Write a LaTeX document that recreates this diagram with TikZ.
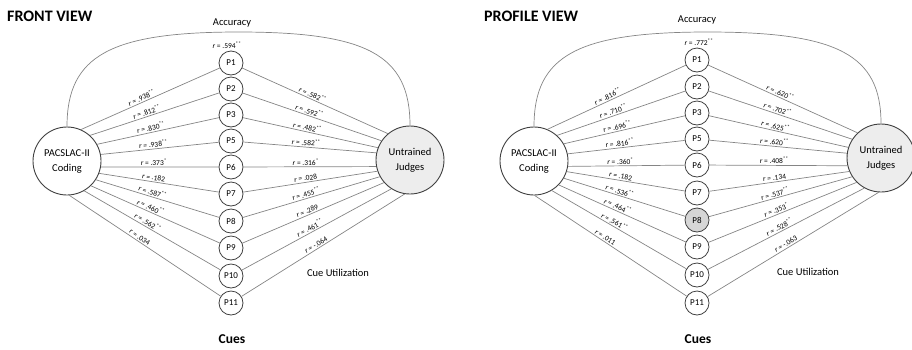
\documentclass[tikz,border=0pt]{standalone}
\usepackage{fontspec}
\setmainfont{Carlito}
\definecolor{linegray}{HTML}{858585}
\definecolor{edgegray}{HTML}{404040}
\definecolor{judgefill}{HTML}{EDEDED}
\definecolor{cuefill}{HTML}{D6D6D6}
\newcommand{\starsof}[1]{\ifcase#1\or\textsuperscript{*}\or\textsuperscript{**}\fi}
\newcommand{\corrlab}[2]{\textit{r} = #1\starsof{#2}}
\tikzset{
  bignode/.style={circle, draw=edgegray, line width=0.9pt, minimum size=68pt, inner sep=0pt,
    align=center, font=\fontsize{10.5}{15}\selectfont},
  cuenode/.style={circle, draw=edgegray, line width=0.8pt, minimum size=24pt, inner sep=0pt,
    font=\fontsize{9}{10}\selectfont},
  conn/.style={draw=linegray, line width=0.7pt},
  rlab/.style={font=\fontsize{7.5}{8}\selectfont, sloped, above, inner sep=1.2pt},
  titletext/.style={font=\fontsize{16}{18}\selectfont\bfseries, anchor=west, inner sep=0pt},
  plaintext/.style={font=\fontsize{10.5}{12}\selectfont, inner sep=0pt},
  cuestext/.style={font=\fontsize{13.5}{15}\selectfont\bfseries, inner sep=0pt},
}
\begin{document}
\begin{tikzpicture}[x=1pt,y=-1pt]
\useasboundingbox (0,0) rectangle (912,349);

% ---------------- FRONT VIEW ----------------
\node[titletext] (fTitle) at (7,16) {FRONT VIEW};
\node[bignode] (fL) at (67,161) {PACSLAC-II\\Coding};
\node[bignode, fill=judgefill] (fR) at (410,160) {Untrained\\Judges};
\foreach \i/\lab/\y in {1/P1/63, 2/P2/89, 3/P3/115, 4/P5/141, 5/P6/167, 6/P7/194, 7/P8/221, 8/P9/248, 9/P10/276, 10/P11/303}
  \node[cuenode] (fP\i) at (231,\y) {\lab};

\foreach \i/\a/\v/\s in {1/66/.938/2, 2/48/.812/2, 3/29/.830/2, 4/11/.938/2, 5/-10/.373/1, 6/-21/.182/0, 7/-33/.587/2, 8/-46/.460/2, 9/-60/.562/2, 10/-86/.034/0}
  \draw[conn] (fL.\a) -- node[rlab, pos=0.45] {\corrlab{\v}{\s}} (fP\i);
\foreach \i/\a/\v/\s in {1/130/.582/2, 2/146/.592/2, 3/159/.482/2, 4/168/.582/2, 5/191/.316/1, 6/199/.028/0, 7/209/.455/2, 8/221/.289/0, 9/237/.461/2, 10/261/-.064/0}
  \draw[conn] (fP\i) -- node[rlab, pos=0.47] {\corrlab{\v}{\s}} (fR.\a);

\coordinate (fPeak) at (238.5,32);
\draw[conn] (fL.north) .. controls +(0,-71) and +(-128,0) .. (fPeak)
  .. controls +(128,0) and +(0,-71) .. (fR.north);
\node[plaintext] (fAcc) at (232,23) {Accuracy};
\node[font=\fontsize{7.5}{8}\selectfont, inner sep=0pt] (fAccR) at (227,45) {\corrlab{.594}{2}};
\node[plaintext] (fCU) at (338,273) {Cue Utilization};
\node[cuestext] (fCues) at (232,339) {Cues};

% ---------------- PROFILE VIEW ----------------
\node[titletext] (pTitle) at (484,16) {PROFILE VIEW};
\node[bignode] (pL) at (534,161) {PACSLAC-II\\Coding};
\node[bignode, fill=judgefill] (pR) at (881,158) {Untrained\\Judges};
\foreach \i/\lab/\y/\fc in {1/P1/60/white, 2/P2/87/white, 3/P3/113/white, 4/P5/139/white, 5/P6/165/white, 6/P7/193/white, 7/P8/220/cuefill, 8/P9/247/white, 9/P10/275/white, 10/P11/303/white}
  \node[cuenode, fill=\fc] (pP\i) at (697,\y) {\lab};

\foreach \i/\a/\v/\s in {1/67/.816/2, 2/48/.710/2, 3/30/.696/2, 4/12/.816/2, 5/-9/.360/1, 6/-18/.182/0, 7/-30/.536/2, 8/-44/.464/2, 9/-59/.561/2, 10/-89/.011/0}
  \draw[conn] (pL.\a) -- node[rlab, pos=0.45] {\corrlab{\v}{\s}} (pP\i);
\foreach \i/\a/\v/\s in {1/133/.620/2, 2/147/.702/2, 3/162/.625/2, 4/172/.620/2, 5/193/.408/2, 6/203/.134/0, 7/213/.537/2, 8/225/.353/1, 9/241/.528/2, 10/266/-.063/0}
  \draw[conn] (pP\i) -- node[rlab, pos=0.47] {\corrlab{\v}{\s}} (pR.\a);

\coordinate (pPeak) at (707.5,32);
\draw[conn] (pL.north) .. controls +(0,-71) and +(-130,0) .. (pPeak)
  .. controls +(130,0) and +(0,-69) .. (pR.north);
\node[plaintext] (pAcc) at (697,20) {Accuracy};
\node[font=\fontsize{7.5}{8}\selectfont, inner sep=0pt] (pAccR) at (699,42) {\corrlab{.772}{2}};
\node[plaintext] (pCU) at (808,272) {Cue Utilization};
\node[cuestext] (pCues) at (698,339) {Cues};
\end{tikzpicture}
\end{document}
